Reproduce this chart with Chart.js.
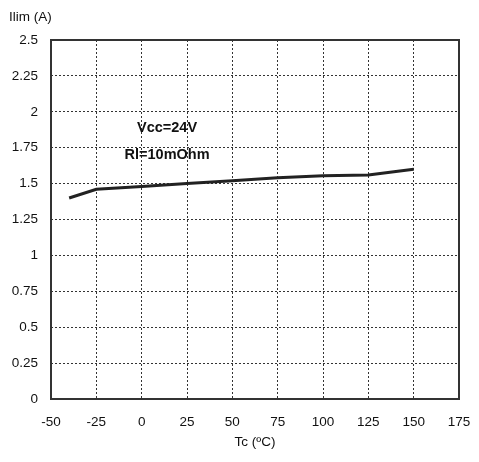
<!DOCTYPE html>
<html>
<head>
<meta charset="utf-8">
<script src="https://cdn.jsdelivr.net/npm/chart.js@4"></script>
<style>
  html, body { margin: 0; padding: 0; background: #fff; }
  #wrap { width: 479px; height: 462px; }
</style>
</head>
<body>
<div id="wrap"><canvas id="chart" width="479" height="462"></canvas></div>
<script>
// data
const temps = [-40, -25, 0, 25, 50, 75, 100, 125, 150];
const ilim = [1.40, 1.46, 1.48, 1.50, 1.52, 1.54, 1.555, 1.56, 1.60];
const xTicks = [-50, -25, 0, 25, 50, 75, 100, 125, 150, 175];
const yTicks = [0, 0.25, 0.5, 0.75, 1, 1.25, 1.5, 1.75, 2, 2.25, 2.5];
const notes = [
  { x: 14, y: 1.89, text: 'Vcc=24V' },
  { x: 14, y: 1.70, text: 'Rl=10mOhm' }
];

const font = 'Liberation Sans, Arial, sans-serif';

const extras = {
  id: 'extras',
  afterDraw(chart) {
    const { ctx, chartArea: a, scales } = chart;
    ctx.save();
    ctx.strokeStyle = '#333';
    ctx.lineWidth = 2;
    ctx.strokeRect(a.left, a.top, a.right - a.left, a.bottom - a.top);

    ctx.fillStyle = '#111';
    ctx.font = 'bold 14.5px ' + font;
    ctx.textAlign = 'center';
    ctx.textBaseline = 'middle';
    notes.forEach(n => {
      ctx.fillText(n.text, scales.x.getPixelForValue(n.x), scales.y.getPixelForValue(n.y));
    });

    ctx.font = '13.5px ' + font;
    ctx.textAlign = 'left';
    ctx.fillText('Ilim (A)', 9, 17);
    ctx.restore();
  }
};

new Chart(document.getElementById('chart'), {
  type: 'line',
  data: {
    datasets: [{
      data: temps.map((t, i) => ({ x: t, y: ilim[i] })),
      borderColor: '#222',
      borderWidth: 3,
      pointRadius: 0,
      tension: 0,
      fill: false
    }]
  },
  options: {
    responsive: false,
    animation: false,
    layout: { padding: { top: 40, right: 20, bottom: 8, left: 0 } },
    plugins: { legend: { display: false }, tooltip: { enabled: false } },
    scales: {
      x: {
        type: 'linear',
        min: -50, max: 175,
        afterBuildTicks: s => { s.ticks = xTicks.map(v => ({ value: v })); },
        afterFit: s => { s.height = 55; s.paddingLeft = 0; s.paddingRight = 0; },
        grid: { color: '#333', drawTicks: false },
        border: { display: false, dash: [2, 2] },
        ticks: { color: '#111', font: { family: font, size: 13.5 }, padding: 15, maxRotation: 0, callback: v => String(v) },
        title: { display: true, text: 'Tc (ºC)', color: '#111', font: { family: font, size: 13.5 } }
      },
      y: {
        min: 0, max: 2.5,
        afterBuildTicks: s => { s.ticks = yTicks.map(v => ({ value: v })); },
        afterFit: s => { s.width = 51; s.paddingTop = 0; s.paddingBottom = 0; },
        grid: { color: '#333', drawTicks: false },
        border: { display: false, dash: [2, 2] },
        ticks: { color: '#111', font: { family: font, size: 13.5 }, padding: 13, callback: v => String(v) }
      }
    }
  },
  plugins: [extras]
});
</script>
</body>
</html>
